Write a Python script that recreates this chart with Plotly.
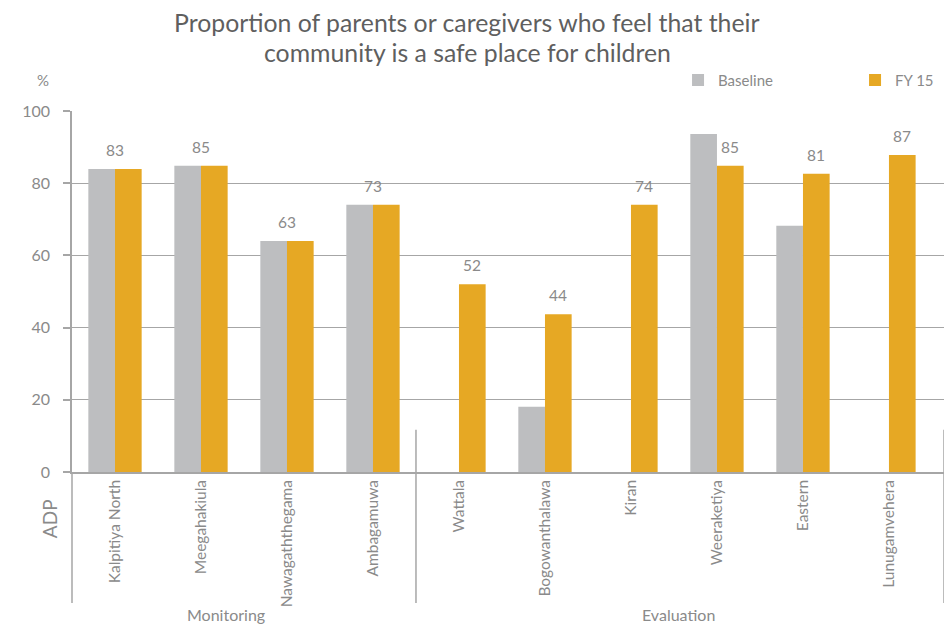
import plotly.graph_objects as go

categories = ["Kalpitiya North", "Meegahakiula", "Nawagaththegama", "Ambagamuwa",
              "Wattala", "Bogowanthalawa", "Kiran", "Weeraketiya", "Eastern", "Lunugamvehera"]
groups = ["Monitoring", "Evaluation"]
group_sizes = [4, 6]
baseline = [83.9, 84.8, 64.0, 74.0, None, 18.1, None, 93.6, 68.2, None]
fy15 = [83.9, 84.8, 64.0, 74.0, 52.0, 43.7, 74.0, 84.8, 82.6, 87.8]
fy15_labels = ["83", "85", "63", "73", "52", "44", "74", "85", "81", "87"]
y_ticks = [0, 20, 40, 60, 80, 100]
title_lines = ["Proportion of parents or caregivers who feel that their",
               "community is a safe place for children"]

GRAY_TXT = "#8a8a8a"
AXIS = "#a6a6a6"
FONT = "Lato, 'Open Sans', sans-serif"

fig = go.Figure()
fig.add_trace(go.Bar(name="Baseline", x=categories, y=baseline, marker_color="#BDBEC0",
                     marker_line_width=0))
fig.add_trace(go.Bar(name="FY 15", x=categories, y=fy15, marker_color="#E6A824",
                     marker_line_width=0))

# data labels
for i, (c, v, lab) in enumerate(zip(categories, fy15, fy15_labels)):
    same = baseline[i] is not None and abs(baseline[i] - v) < 0.01
    fig.add_annotation(x=c, y=v, text=lab, showarrow=False, yanchor="bottom",
                       yshift=8, xshift=0 if same else 13,
                       font=dict(size=15.5, color=GRAY_TXT, family=FONT))

# group separators and labels
group_label_x = [0.177, 0.695]   # paper positions of the group captions
start = 0
bounds = [-0.5]
for g, sz, gx in zip(groups, group_sizes, group_label_x):
    fig.add_annotation(x=gx, xref="paper", y=-0.396, yref="paper", text=g, showarrow=False,
                       xanchor="center", yanchor="middle",
                       font=dict(size=16, color=GRAY_TXT, family=FONT))
    start += sz
    bounds.append(start - 0.5)

line_style = dict(color=AXIS, width=1.5)
fig.add_shape(type="line", xref="paper", yref="paper", x0=0, x1=0, y0=0, y1=-0.363, line=line_style)
for b in bounds[1:-1]:
    fig.add_shape(type="line", xref="x", yref="paper", x0=b, x1=b, y0=0.117, y1=-0.363, line=line_style)
fig.add_shape(type="line", xref="paper", yref="paper", x0=1, x1=1, y0=0.117, y1=-0.363, line=line_style)

fig.add_annotation(text="ADP", xref="paper", yref="paper", x=-0.025, y=-0.13, textangle=-90,
                   xanchor="center", yanchor="middle",
                   showarrow=False, font=dict(size=19, color=GRAY_TXT, family=FONT))
fig.add_annotation(text="%", xref="paper", yref="paper", x=-0.033, y=1.086, showarrow=False,
                   xanchor="center", yanchor="middle",
                   font=dict(size=15, color=GRAY_TXT, family=FONT))

# title, one annotation per line
for line, ty in zip(title_lines, [1.2465, 1.163]):
    fig.add_annotation(text=line, xref="paper", yref="paper", x=0.453, y=ty,
                       xanchor="center", yanchor="middle", showarrow=False,
                       font=dict(size=24.8, color="#5f5f5f", family=FONT))

# page body has an 8px margin, so the figure is sized to fill the remaining window
fig.update_layout(
    width=944, height=617,
    margin=dict(l=64, r=8, t=103, b=153, autoexpand=False),
    paper_bgcolor="white", plot_bgcolor="white",
    barmode="group", bargap=0.38, bargroupgap=0,
    font=dict(family=FONT, color=GRAY_TXT),
    legend=dict(orientation="h", x=0.695, xanchor="left", y=1.085, yanchor="middle",
                font=dict(size=15, color=GRAY_TXT, family=FONT), entrywidth=132,
                bgcolor="rgba(0,0,0,0)"),
    xaxis=dict(type="category", tickangle=-90, range=[-0.5, 9.64], automargin=False,
               tickfont=dict(size=15.5, color=GRAY_TXT, family=FONT),
               showline=True, linecolor=AXIS, linewidth=1.5, ticks="", showgrid=False),
    yaxis=dict(range=[0, 100], tickvals=y_ticks, showgrid=True, gridcolor=AXIS, gridwidth=1.3,
               showline=True, linecolor=AXIS, linewidth=1.5, ticks="outside", ticklen=7,
               tickcolor=AXIS, tickwidth=1.5, automargin=False, ticklabelstandoff=10,
               tickfont=dict(size=16, color=GRAY_TXT, family=FONT), zeroline=False),
)

fig.write_html("out.html")
